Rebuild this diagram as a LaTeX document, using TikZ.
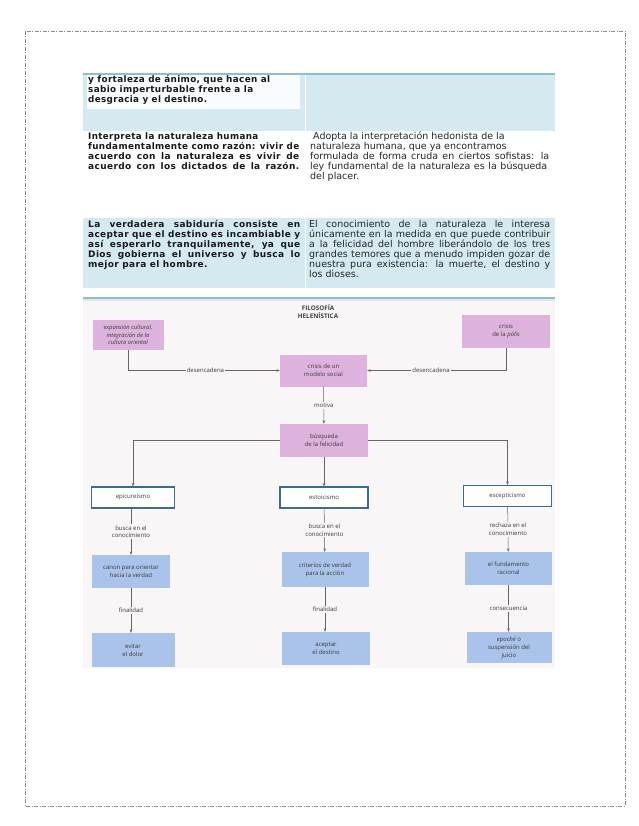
\documentclass[tikz,border=0pt]{standalone}
\usepackage{fontspec}
\usepackage{graphicx}
\setmainfont{DejaVu Sans}
\newfontfamily\tr{DejaVu Sans}
\newfontfamily\tb[LetterSpace=4]{DejaVu Sans Bold}
\newfontfamily\df{Open Sans}
\usetikzlibrary{arrows.meta}
\definecolor{tblue}{HTML}{D4EAF0}
\definecolor{tline}{HTML}{8CC0CE}
\definecolor{pinkb}{HTML}{DDB2DC}
\definecolor{blueb}{HTML}{A9C3EA}
\definecolor{frameb}{HTML}{3B6E8C}
\definecolor{dtext}{HTML}{3A3A3A}
\definecolor{bg}{HTML}{F8F6F6}
\newsavebox\lbox
% fit a line to a given width: squeeze if too wide, stretch spaces otherwise
\newcommand\fl[2]{\sbox\lbox{#2}\ifdim\wd\lbox>#1\relax\resizebox{#1}{\height}{\usebox\lbox}\else\makebox[#1][s]{#2}\fi}
\begin{document}
\begin{tikzpicture}[x=1pt,y=-1pt,
  tl/.style={anchor=base west,inner sep=0pt,font=\tr\fontsize{9.5}{10}\selectfont,text=black!85},
  tbl/.style={anchor=base west,inner sep=0pt,font=\tb\fontsize{9}{10}\selectfont,text=black!90},
  dbox/.style={inner sep=1pt,align=center,font=\df\fontsize{6}{8}\selectfont,text=dtext},
  pbox/.style={dbox,fill=pinkb},
  bbox/.style={dbox,fill=blueb},
  fbox/.style={dbox,fill=white,draw=frameb,line width=1.1pt},
  arr/.style={draw=black!60,line width=0.5pt,-{Stealth[length=3.5pt,width=2.6pt]}},
  lab/.style={fill=bg,inner sep=1.2pt,align=center,font=\df\fontsize{6}{7.5}\selectfont,text=dtext}]
\useasboundingbox (0,0) rectangle (638,826);
\fill[white] (0,0) rectangle (638,826);
% page frame
\draw[black!45,line width=0.7pt,dash pattern=on 4pt off 1.5pt on 1pt off 1.5pt] (25,31) rectangle (625,806);
% ---- table row 1
\fill[tblue] (83,74) rectangle (555,131);
\fill[white!85!tblue] (87,75.5) rectangle (300,109);
\draw[white,line width=1pt] (305,74) -- (305,131);
\draw[tline,line width=1.3pt] (83,74) -- (555,74);
\node[tbl] (r1a) at (88,83) {\fl{182pt}{y fortaleza de ánimo, que hacen al}};
\node[tbl] (r1b) at (88,93) {\fl{165pt}{sabio imperturbable frente a la}};
\node[tbl] (r1c) at (88,103) {\fl{119pt}{desgracia y el destino.}};
% ---- row 2
\node[tbl] (r2a) at (88,140) {\fl{170pt}{Interpreta la naturaleza humana}};
\node[tbl] (r2b) at (88,150) {\fl{211pt}{fundamentalmente como razón: vivir de}};
\node[tbl] (r2c) at (88,160) {\fl{211pt}{acuerdo con la naturaleza es vivir de}};
\node[tbl] (r2d) at (88,170) {\fl{211pt}{acuerdo con los dictados de la razón.}};
\node[tl] (r2e) at (313,140) {Adopta la interpretación hedonista de la};
\node[tl] (r2f) at (310,150) {naturaleza humana, que ya encontramos};
\node[tl] (r2g) at (310,160) {\fl{239pt}{formulada de forma cruda en ciertos sofistas: la}};
\node[tl] (r2h) at (310,170) {\fl{237pt}{ley fundamental de la naturaleza es la búsqueda}};
\node[tl] (r2i) at (310,180) {del placer.};
% ---- row 3
\fill[tblue] (83,218.5) rectangle (555,287.5);
\draw[white,line width=1pt] (305,218.5) -- (305,287.5);
\node[tbl] (r3a) at (88,227.5) {\fl{212pt}{La verdadera sabiduría consiste en}};
\node[tbl] (r3b) at (88,237.5) {\fl{212pt}{aceptar que el destino es incambiable y}};
\node[tbl] (r3c) at (88,247.5) {\fl{212pt}{así esperarlo tranquilamente, ya que}};
\node[tbl] (r3d) at (88,257.5) {\fl{212pt}{Dios gobierna el universo y busca lo}};
\node[tbl] (r3e) at (88,267.5) {mejor para el hombre.};
\node[tl] (r3f) at (309,227.5) {\fl{241pt}{El conocimiento de la naturaleza le interesa}};
\node[tl] (r3g) at (309,237.5) {\fl{241pt}{únicamente en la medida en que puede contribuir}};
\node[tl] (r3h) at (309,247.5) {\fl{241pt}{a la felicidad del hombre liberándolo de los tres}};
\node[tl] (r3i) at (309,257.5) {\fl{241pt}{grandes temores que a menudo impiden gozar de}};
\node[tl] (r3j) at (309,267.5) {\fl{241pt}{nuestra pura existencia: la muerte, el destino y}};
\node[tl] (r3k) at (309,277.5) {los dioses.};
% ---- diagram
\fill[bg] (83,298) rectangle (555,668);
\draw[black!10,line width=1.5pt] (83,300) -- (555,300);
\draw[tline,line width=1.3pt] (83,298) -- (555,298);
\node[font=\df\bfseries\fontsize{6.3}{8.3}\selectfont,text=black!75,align=center] (title) at (318,311.5) {FILOSOFÍA\\HELENÍSTICA};
\node[pbox,minimum width=71pt,minimum height=30pt,font=\df\itshape\fontsize{5.8}{7.8}\selectfont] (exp) at (128,335) {expansión cultural,\\integración de la\\cultura oriental};
\node[pbox,minimum width=88pt,minimum height=33pt] (polis) at (506,331.5) {crisis\\de la \textit{pólis}};
\node[pbox,minimum width=87pt,minimum height=32pt] (crisis) at (323.5,370.5) {crisis de un\\modelo social};
\node[pbox,minimum width=88pt,minimum height=33pt] (busq) at (324,440.5) {búsqueda\\de la felicidad};
\node[fbox,minimum width=83pt,minimum height=21pt] (epi) at (133,497.5) {epicureismo};
\node[fbox,minimum width=88pt,minimum height=21pt] (esto) at (324,497.5) {estoicismo};
\node[fbox,minimum width=88pt,minimum height=21pt] (esc) at (507.5,496) {escepticismo};
\node[bbox,minimum width=78pt,minimum height=33pt] (canon) at (131,571.5) {canon para orientar\\hacia la verdad};
\node[bbox,minimum width=87pt,minimum height=35pt] (crit) at (325,569.5) {criterios de verdad\\para la acción};
\node[bbox,minimum width=87pt,minimum height=33pt] (fund) at (508.5,568.5) {el fundamento\\racional};
\node[bbox,minimum width=83pt,minimum height=34pt] (evit) at (133,650) {evitar\\el dolor};
\node[bbox,minimum width=88pt,minimum height=33pt] (acep) at (326,648.5) {aceptar\\el destino};
\node[bbox,minimum width=85pt,minimum height=31pt] (epo) at (509,647.5) {\textit{epoché} o\\suspensión del\\juicio};
% connectors
\draw[arr] (exp.south) |- node[lab,pos=0.755] {desencadena} (crisis.west);
\draw[arr] (polis.south) |- node[lab,pos=0.77] {desencadena} (crisis.east);
\draw[arr] (crisis) -- node[lab,pos=0.5] {motiva} (busq);
\draw[arr] (busq.west) -| (epi.north);
\draw[arr] (busq) -- (esto);
\draw[arr] (busq.east) -| (esc.north);
\draw[arr] (epi.south -| canon.north) -- node[lab] {busca en el\\conocimiento} (canon.north);
\draw[arr] (esto) -- node[lab] {busca en el\\conocimiento} (crit);
\draw[arr] (esc) -- node[lab] {rechaza en el\\conocimiento} (fund);
\draw[arr] (canon.south) -- node[lab] {finalidad} (canon.south |- evit.north);
\draw[arr] (crit) -- node[lab] {finalidad} (crit |- acep.north);
\draw[arr] (fund) -- node[lab] {consecuencia} (fund |- epo.north);
\end{tikzpicture}
\end{document}
